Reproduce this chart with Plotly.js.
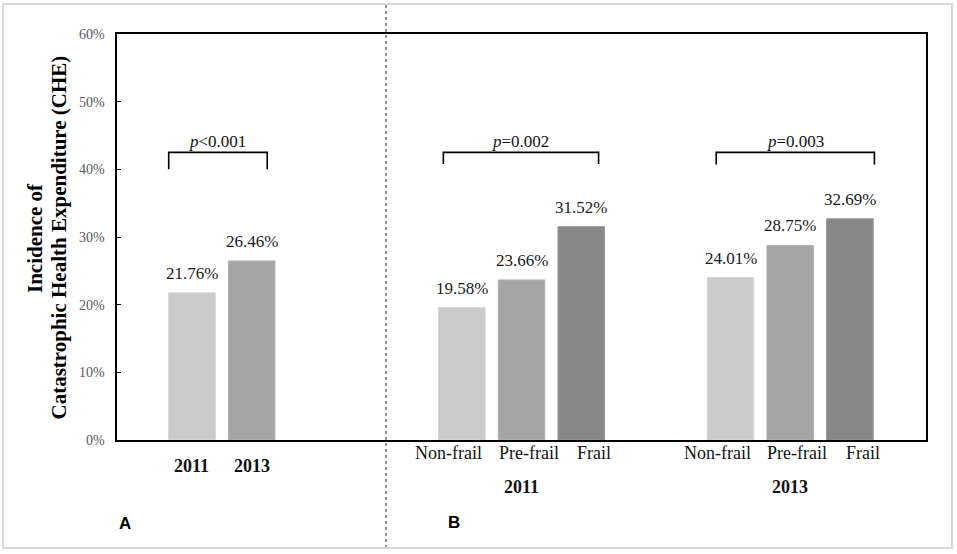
<!DOCTYPE html>
<html>
<head>
<meta charset="utf-8">
<script src="https://cdn.plot.ly/plotly-3.0.1.min.js"></script>
<style>
  body { margin: 0; background: #fff; }
  #chart { width: 957px; height: 554px; }
</style>
</head>
<body>
<div id="chart"></div>
<script>
// values (percent)
const yearsA = ['2011', '2013'];
const valuesA = [21.76, 26.46];
const tiers = ['Non-frail', 'Pre-frail', 'Frail'];
const values2011 = [19.58, 23.66, 31.52];
const values2013 = [24.01, 28.75, 32.69];
const groupYears = ['2011', '2013'];
const pLabels = ['<i>p</i>&lt;0.001', '<i>p</i>=0.002', '<i>p</i>=0.003'];
const yTicks = [0, 10, 20, 30, 40, 50, 60];

// styling / layout
const fill = ['#cbcbcb', '#a5a5a5', '#878787'];
const edge = ['#d6d6d6', '#b3b3b3', '#959595'];
const serif = 'Liberation Serif';
const sans = 'Liberation Sans';
const M = {l: 117, r: 31, t: 34, b: 114};
const W = 957, H = 554;
const pw = W - M.l - M.r, ph = H - M.t - M.b;
const px = x => (x - M.l) / pw;          // pixel -> paper x
const py = y => (H - M.b - y) / ph;      // pixel -> paper y

const barW = 0.78;
const startA = 0, start2011 = 4.52, start2013 = 9.02;
const tierShift = [-13, 7, 13];

// collect bars
const xs = [], ys = [], cols = [], lines = [];
yearsA.forEach((yr, i) => { xs.push(startA + i); ys.push(valuesA[i]); cols.push(fill[i]); lines.push(edge[i]); });
[values2011, values2013].forEach((vals, g) => {
  const s = g === 0 ? start2011 : start2013;
  vals.forEach((v, i) => { xs.push(s + i); ys.push(v); cols.push(fill[i]); lines.push(edge[i]); });
});

const annotations = [];
// value labels
xs.forEach((x, i) => {
  annotations.push({x: x, y: ys[i], xref: 'x', yref: 'y', text: ys[i].toFixed(2) + '%',
    showarrow: false, yanchor: 'middle', yshift: 19.5, font: {family: serif, size: 17, color: '#1a1a1a'}});
});
// category labels
yearsA.forEach((yr, i) => {
  annotations.push({x: startA + i, y: 0, xref: 'x', yref: 'y', text: '<b>' + yr + '</b>',
    showarrow: false, yanchor: 'middle', yshift: -26, font: {family: serif, size: 18, color: '#111'}});
});
[start2011, start2013].forEach((s, g) => {
  tiers.forEach((t, i) => {
    annotations.push({x: s + i, y: 0, xref: 'x', yref: 'y', text: t, showarrow: false,
      yanchor: 'middle', yshift: -13, xshift: tierShift[i], font: {family: serif, size: 18, color: '#111'}});
  });
  annotations.push({x: s + 1, y: 0, xref: 'x', yref: 'y', text: '<b>' + groupYears[g] + '</b>',
    showarrow: false, yanchor: 'middle', yshift: -47, font: {family: serif, size: 18, color: '#111'}});
});
// panel letters
annotations.push({x: 0, y: py(523), xref: 'paper', yref: 'paper', text: '<b>A</b>', showarrow: false,
  xanchor: 'left', yanchor: 'middle', font: {family: sans, size: 17, color: '#000'}});
annotations.push({x: px(454), y: py(522), xref: 'paper', yref: 'paper', text: '<b>B</b>', showarrow: false,
  xanchor: 'center', yanchor: 'middle', font: {family: sans, size: 17, color: '#000'}});
// y title, two lines
annotations.push({x: px(35), y: py(238), xref: 'paper', yref: 'paper', text: '<b>Incidence of</b>',
  textangle: -90, showarrow: false, xanchor: 'center', yanchor: 'middle',
  font: {family: serif, size: 21, color: '#000'}});
annotations.push({x: px(58.5), y: py(238), xref: 'paper', yref: 'paper',
  text: '<b>Catastrophic Health Expenditure (CHE)</b>',
  textangle: -90, showarrow: false, xanchor: 'center', yanchor: 'middle',
  font: {family: serif, size: 21, color: '#000'}});

// brackets with p values
const brackets = [
  {x0: startA - 0.39, x1: startA + 1.26, yb: 40},
  {x0: start2011 - 0.31, x1: start2011 + 2.29, yb: 40.8},
  {x0: start2013 - 0.24, x1: start2013 + 2.41, yb: 40.7}
];
const bracketTop = 42.5;
const shapes = [];
brackets.forEach((b, i) => {
  shapes.push({type: 'path', xref: 'x', yref: 'y',
    path: `M${b.x0},${b.yb} L${b.x0},${bracketTop} L${b.x1},${bracketTop} L${b.x1},${b.yb}`,
    line: {color: '#000', width: 1.6}});
  annotations.push({x: (b.x0 + b.x1) / 2, y: bracketTop, xref: 'x', yref: 'y', text: pLabels[i],
    showarrow: false, yanchor: 'middle', yshift: 11, font: {family: serif, size: 17, color: '#111'}});
});
// dashed divider between panels
shapes.push({type: 'line', xref: 'x', yref: 'paper', x0: 3.25, x1: 3.25, y0: py(548), y1: py(5),
  line: {color: '#555', width: 1.3, dash: 'dot'}});
// outer frame
shapes.push({type: 'rect', xref: 'paper', yref: 'paper', x0: px(3), x1: px(952), y0: py(548), y1: py(4),
  line: {color: '#d9d9d9', width: 2}});

const trace = {
  type: 'bar', x: xs, y: ys, width: barW,
  marker: {color: cols, line: {color: lines, width: 1}},
  hoverinfo: 'skip'
};

const layout = {
  width: W, height: H,
  margin: M,
  paper_bgcolor: '#fff', plot_bgcolor: '#fff',
  showlegend: false,
  xaxis: {range: [-1.256, 12.294], showticklabels: false, ticks: '', showgrid: false, zeroline: false,
    showline: true, linecolor: '#000', linewidth: 1.6, mirror: true, fixedrange: true},
  yaxis: {range: [0, 60], tickvals: yTicks, ticktext: yTicks.map(v => v + '%'), ticks: 'inside', ticklen: 4,
    tickcolor: '#000', tickwidth: 1, showgrid: false, zeroline: false, showline: true, linecolor: '#000',
    linewidth: 1.6, mirror: true, ticklabelstandoff: 8,
    tickfont: {family: serif, size: 14, color: '#595959'}, fixedrange: true},
  annotations: annotations,
  shapes: shapes
};

Plotly.newPlot('chart', [trace], layout, {displayModeBar: false, staticPlot: true});
</script>
</body>
</html>
